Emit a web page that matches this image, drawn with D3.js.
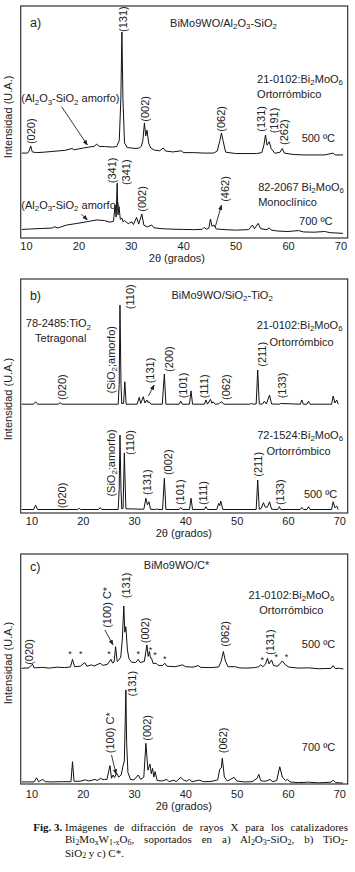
<!DOCTYPE html>
<html>
<head>
<meta charset="utf-8">
<script src="https://cdn.jsdelivr.net/npm/d3@7"></script>
<style>
  body { margin: 0; background: #fff; }
  svg text { font-family: "Liberation Sans", Arial, Helvetica, sans-serif; fill: #222; }
  svg .caption text { font-family: "Liberation Serif", "Times New Roman", serif; fill: #111; }
</style>
</head>
<body>
<svg id="fig" width="355" height="872"></svg>
<script>
// x ticks (2θ, grados)
const ticks2theta = [10, 20, 30, 40, 50, 60, 70];

// ---- panel a) BiMo9WO/Al2O3-SiO2 : [2θ, intensidad u.a.]
const a500 = [[9.2,36.6],[10.3,36.6],[10.6,37.5],[10.9,39.7],[11.2,37.1],[12,36.8],[13.5,37.0],[15,37.3],[16.5,37.6],[17.5,37.8],[18.8,38.6],[19.2,38.0],[20,38.4],[21,38.8],[22,39.2],[23,39.5],[23.5,40.5],[23.9,39.5],[25,39.4],[26.5,39.2],[27.3,39.4],[27.8,42],[28.1,60],[28.3,88.8],[28.5,60],[28.8,41],[29.3,39.0],[30,38.8],[31,38.6],[31.6,38.8],[32.0,39.5],[32.3,42],[32.6,49.6],[32.85,44],[33.1,46.5],[33.4,41],[33.8,38.8],[34.5,37.9],[35.5,37.6],[36.2,38.8],[36.6,37.5],[38,37.1],[39.7,37.6],[40,36.8],[42,36.8],[44,36.6],[45.8,36.6],[46.5,37.5],[47.0,42],[47.3,45.3],[47.6,42],[48.1,37.0],[50,36.4],[52,36.4],[54,36.4],[55.0,36.8],[55.4,40],[55.7,44.4],[56.0,40],[56.4,41.5],[56.8,38.5],[57.5,36.5],[58.5,37.0],[58.9,38.6],[59.3,36.6],[61,36.0],[63,35.8],[65,35.8],[67,35.8],[68.6,36.6],[69,35.8],[70.5,35.8]];
const a700 = [[9.2,3.7],[11,3.9],[13,4.1],[15.0,4.3],[15.5,4.9],[16,4.3],[17.8,5.6],[19.5,6.2],[21.6,7.0],[23.5,7.8],[25,7.5],[26,6.8],[26.7,7.2],[27.0,14.2],[27.2,9],[27.4,23.6],[27.55,10],[27.75,13.5],[28.0,8],[28.3,8.6],[28.5,7],[28.8,7.5],[29.5,6.2],[30.2,7.0],[30.5,5.8],[31.1,8.9],[31.5,6],[32.1,10.3],[32.5,5.5],[33.2,4.8],[34.0,5.6],[34.4,4.4],[36,4.0],[38,3.8],[40,3.7],[42,3.6],[43.6,3.7],[44.0,4.6],[44.4,3.8],[44.9,4.2],[45.2,8.2],[45.5,5.0],[45.9,5.6],[46.3,3.9],[48,3.6],[50,3.4],[52.5,3.6],[53.2,5.6],[53.6,4.0],[54.3,6.3],[54.8,4.0],[56.0,3.6],[56.4,4.4],[56.8,3.4],[58,3.0],[60,2.8],[62,3.2],[63,2.6],[65,2.5],[67,2.8],[68,2.3],[70.5,2.0]];

// ---- panel b) BiMo9WO/SiO2-TiO2
const bUpper = [[8.1,46.5],[10.4,46.5],[10.8,47.5],[11.2,46.5],[15.2,46.5],[15.6,47.1],[16.0,46.5],[20,46.5],[24,46.5],[26.9,46.5],[27.1,55],[27.25,88.8],[27.45,55],[27.6,46.8],[27.95,46.8],[28.2,56.1],[28.45,46.5],[30.6,46.5],[31.0,49.4],[31.3,46.8],[31.8,49.7],[32.1,47.0],[32.5,48.3],[32.7,47.2],[32.9,47.5],[33.3,46.5],[35.5,46.5],[35.9,59.4],[36.2,46.5],[38.8,46.5],[39.1,47.8],[39.4,46.5],[40.8,46.5],[41.1,52.2],[41.4,46.5],[43.7,46.5],[44.0,48.3],[44.3,46.5],[44.9,48.6],[45.15,46.9],[45.4,47.5],[45.8,46.5],[46.5,46.6],[46.8,47.3],[47.1,47.5],[47.5,46.5],[52.5,46.5],[52.9,46.8],[53.2,46.5],[53.8,46.6],[54.1,61.1],[54.4,46.6],[55.0,46.5],[55.4,47.8],[55.8,46.6],[56.4,50.4],[56.8,46.6],[58.3,46.5],[58.5,46.8],[62.4,46.5],[62.7,48.3],[63.0,46.5],[63.7,46.5],[64.0,47.8],[64.3,46.5],[68.5,46.5],[68.8,50.0],[69.15,47.0],[69.5,48.3],[69.8,46.5]];
const bLower = [[8.1,1.5],[10.4,1.5],[10.8,3.3],[11.2,1.5],[19.0,1.5],[19.3,2.0],[19.6,1.5],[23.1,1.5],[23.4,2.3],[23.7,1.5],[26.9,1.5],[27.1,10],[27.25,33.3],[27.45,10],[27.6,1.8],[27.85,2],[28.1,25.7],[28.4,1.8],[31.9,1.6],[32.3,6.3],[32.6,3.5],[32.9,4.8],[33.2,1.6],[34.1,1.5],[34.4,1.7],[34.7,1.5],[35.55,1.5],[35.9,14.8],[36.2,1.5],[38.8,1.5],[39.1,2.4],[39.4,1.5],[40.8,1.5],[41.1,6.3],[41.4,1.5],[43.7,1.5],[44.0,2.7],[44.3,1.5],[46.1,1.5],[46.5,4.1],[46.7,3.2],[46.9,5.1],[47.3,1.5],[53.8,1.5],[54.1,14.1],[54.4,1.6],[54.8,2.0],[55.2,4.4],[55.6,2.4],[56.0,2.6],[56.4,4.8],[56.8,1.6],[58.0,1.5],[58.3,2.7],[58.6,1.5],[62.4,1.5],[62.7,2.4],[63.0,1.5],[63.7,1.5],[64.0,2.7],[64.3,1.5],[68.5,1.5],[68.8,4.8],[69.15,2.2],[69.5,3.0],[69.8,1.5]];

// ---- panel c) BiMo9WO/C*
const c500 = [[8.1,50.3],[9.5,50.5],[10.2,52.1],[10.5,50.5],[12,50.7],[13.5,50.4],[15,50.8],[16.5,50.6],[17.6,50.9],[18.0,54.2],[18.4,51.0],[19.5,51.2],[20.4,52.8],[20.8,51.2],[21.7,51.8],[22.2,51.3],[23.4,52.5],[23.9,51.6],[24.8,52.0],[25.5,54.2],[25.8,52.6],[26.1,53.0],[26.4,59.7],[26.7,53.3],[27.0,53.8],[27.4,55.2],[27.7,62.6],[28.0,77.4],[28.2,66],[28.4,68.4],[28.7,58.3],[29.0,54.5],[29.5,53.0],[30.3,52.8],[30.8,54.2],[31.2,52.8],[32.0,53.3],[32.5,60.5],[32.75,55.5],[33.0,57.6],[33.2,54.8],[33.4,54.7],[33.7,52.4],[34.3,52.5],[34.7,51.6],[35.5,51.5],[36.0,52.5],[36.4,51.2],[38,51.0],[39.5,51.8],[40.0,51.0],[41.5,50.8],[42.5,51.5],[43.0,50.7],[45,50.6],[46.5,50.9],[47.0,53.5],[47.4,57.6],[47.8,53.5],[48.3,51.0],[49.7,51.0],[50.5,50.5],[52,50.4],[53.5,50.6],[54.3,51.0],[54.7,51.8],[55.1,51.0],[55.6,52.0],[56.0,54.7],[56.3,52.2],[56.8,53.9],[57.2,51.5],[58.0,51.2],[58.9,53.5],[59.5,51.8],[60.2,50.8],[62,50.4],[64,50.5],[66,50.1],[68.4,50.3],[68.8,51.5],[69.2,50.2],[70,50.3],[70.8,50.0]];
const c700 = [[8.1,0.9],[10.5,0.9],[11.0,2.7],[11.4,1.0],[12.2,2.0],[12.7,1.0],[14,0.9],[16,1.0],[17.7,1.0],[18.0,9.7],[18.3,1.2],[19.5,1.2],[20.5,1.8],[21.2,1.3],[22.4,2.0],[22.8,1.5],[23.5,2.5],[23.9,1.9],[24.2,2.0],[24.7,1.9],[25.3,8.0],[25.6,2.5],[25.9,3.9],[26.2,2.8],[26.6,4.7],[27.0,3.0],[27.5,4.0],[27.8,7.5],[28.1,10],[28.3,30],[28.4,40.9],[28.55,18],[28.8,5.0],[29.3,2.0],[30.0,1.8],[30.8,3.9],[31.3,2.0],[31.9,3.0],[32.3,17.7],[32.7,6.0],[33.1,8.7],[33.35,4.5],[33.6,6.8],[33.85,3.0],[34.1,5.4],[34.5,1.5],[35.5,1.3],[36.4,2.0],[36.8,1.0],[37.8,1.7],[38.2,1.0],[39.1,2.9],[39.6,1.8],[40.2,1.2],[40.8,2.0],[41.3,1.0],[42.7,1.7],[43.5,1.0],[45,1.1],[46.3,1.8],[46.7,6.4],[47.0,7],[47.2,11.2],[47.6,3.0],[48.2,1.3],[49.5,2.9],[50.0,1.3],[51.5,0.9],[53,1.0],[54.0,2.5],[54.3,4.2],[54.7,1.5],[55.3,1.2],[55.8,1.3],[56.5,2.0],[57.0,1.0],[57.8,1.5],[58.4,7.5],[58.9,3.0],[59.5,1.5],[59.9,2.0],[60.4,0.9],[62,0.6],[64,0.8],[66,0.5],[68.4,0.8],[68.8,1.7],[69.3,0.6],[70.7,0.4]];

// peak indices (rotated labels): [texto, 2θ, intensidad]
const aPeaks = [["(131)",28.6,88.8],["(020)",10.9,40.5],["(002)",32.8,50.1],["(062)",47.3,45.8],["(131)",54.8,45.8],["(191)",57.3,45.1],["(262)",59.2,40.1],["(341)",26.5,23.6],["(341)",29.1,22.8],["(002)",32.1,11.3],["(462)",48.0,15.6]];
const bPeaks = [["(110)",29.2,87.1],["(SiO_{2};amorfo)",25.5,51.1],["(131)",33.1,55.4],["(200)",36.9,60.3],["(101)",39.5,49.0],["(111)",43.7,49.0],["(062)",47.9,48.3],["(211)",55.0,62.5],["(133)",58.8,49.0],["(020)",15.9,48.3],
  ["(SiO_{2};amorfo)",25.5,7.0],["(110)",29.2,24.8],["(131)",32.5,7.7],["(002)",36.7,16.2],["(101)",38.9,3.4],["(111)",43.5,3.4],["(211)",54.2,15.5],["(133)",58.4,3.4],["(020)",15.9,2.0]];
const cPeaks = [["(131)",28.4,80.8],["(100) C*",24.7,67.9],["(002)",32.1,61.2],["(062)",47.7,59.7],["(131)",56.6,56.1],["(020)",9.6,51.8],["(131)",29.7,38.0],["(100) C*",25.3,13.4],["(002)",32.5,18.8],["(062)",47.3,13.4]];

// other labels: [texto, 2θ, intensidad]
const aNotes = [["BiMo9WO/Al_{2}O_{3}-SiO_{2}",37.5,92.8],["21-0102:Bi_{2}MoO_{6}",54.1,68.5],["Ortorrómbico",54.1,61.9],["500 ºC",62.6,43.0],["(Al_{2}O_{3}-SiO_{2} amorfo)",9.1,60.2],["82-2067 Bi_{2}MoO_{6}",54.3,22.1],["Monoclínico",54.3,15.4],["700 ºC",62.1,7.3],["(Al_{2}O_{3}-SiO_{2} amorfo)",9.1,14.2]];
const bNotes = [["BiMo9WO/SiO_{2}-TiO_{2}",37.3,93.1],["78-2485:TiO_{2}",8.9,81.0],["Tetragonal",10.7,74.6],["21-0102:Bi_{2}MoO_{6}",53.9,80.3],["Ortorrómbico",56.4,73.1],["72-1524:Bi_{2}MoO_{6}",54.0,33.3],["Ortorrómbico",55.8,26.6],["500 ºC",63.1,8.1]];
const cNotes = [["BiMo9WO/C*",31.9,95.3],["21-0102:Bi_{2}MoO_{6}",52.3,82.2],["Ortorrómbico",54.4,75.4],["500 ºC",62.7,60.8],["700 ºC",62.7,16.0]];

// arrows: [2θ desde, I desde, 2θ hasta, I hasta]
const aArrows = [[16.8,56.6,21.7,40.1],[46.1,4.6,47.3,14.2],[20.6,10.3,21.7,7.8]];
const bArrows = [[32.8,50.0,33.9,54.7]];
const cArrows = [[24.3,67.0,25.9,60.5],[25.6,12.6,26.5,4.2]];

// asteriscos en c) 500 ºC
const cStars = [[17.5,57.6],[19.6,57.6],[25.1,57.6],[30.8,57.6],[33.2,59.3],[34.1,57.1],[36.0,55.1],[55.0,54.7],[57.7,56.1],[59.7,56.1]];

const panels = [
  {id: "a", tag: "a)", tagPos: [10.76, 92.7], frame: [20.7, 6, 347.7, 238], dom: [8.99, 71.39],
   traces: [a500, a700], peaks: aPeaks, notes: aNotes, arrows: aArrows, stars: [],
   tickPad: 4, xlab: [38.8, 20.5], ylab: 52.2},
  {id: "b", tag: "b)", tagPos: [9.7, 92.7], frame: [20.7, 279, 347.7, 513], dom: [7.9, 71.64],
   traces: [bUpper, bLower], peaks: bPeaks, notes: bNotes, arrows: bArrows, stars: [],
   tickPad: 4, xlab: [39.7, 20.5], ylab: 48.7},
  {id: "c", tag: "c)", tagPos: [9.7, 94.3], frame: [20.7, 554, 347.7, 784], dom: [7.9, 71.64],
   traces: [c500, c700], peaks: cPeaks, notes: cNotes, arrows: cArrows, stars: cStars,
   tickPad: 6, xlab: [39.7, 22.5], ylab: 52.6}
];

const svg = d3.select("#fig");

svg.append("defs").append("marker")
   .attr("id", "ah")
   .attr("viewBox", "0 0 10 10")
   .attr("refX", 9).attr("refY", 5)
   .attr("markerWidth", 6).attr("markerHeight", 6)
   .attr("orient", "auto")
   .append("path")
   .attr("d", "M0,1 L10,5 L0,9 z")
   .attr("fill", "#222");

// text with _{..} subscripts
function rich(sel, str, fs, shift = 0.22) {
	const parts = str.split(/(_\{[^}]*\})/).filter(s => s.length);
	let down = false;
	parts.forEach(p => {
		const sub = p.startsWith("_{");
		const t = sel.append("tspan").text(sub ? p.slice(2, -1) : p);
		if (sub) {
			t.attr("font-size", fs * 0.72);
			if (!down) t.attr("dy", fs * shift);
			down = true;
		} else {
			if (down) t.attr("dy", -fs * shift);
			down = false;
		}
	});
}

panels.forEach(drawPanel);

function drawPanel(p) {
	const [x0, y0, x1, y1] = p.frame;
	const x = d3.scaleLinear().domain(p.dom).range([x0, x1]);
	const y = d3.scaleLinear().domain([0, 100]).range([y1, y0]);
	const g = svg.append("g").attr("class", "panel-" + p.id);

	const line = d3.line().x(d => x(d[0])).y(d => y(d[1]));
	g.selectAll("path.trace")
	 .data(p.traces)
	 .enter()
	 .append("path")
	 .attr("class", "trace")
	 .attr("d", line)
	 .attr("fill", "none")
	 .attr("stroke", "#111")
	 .attr("stroke-width", 1)
	 .attr("stroke-linejoin", "round");

	g.append("rect")
	 .attr("x", x0).attr("y", y0)
	 .attr("width", x1 - x0).attr("height", y1 - y0)
	 .attr("fill", "none")
	 .attr("stroke", "#333")
	 .attr("stroke-width", 1.2);

	// x axis: labels only
	const ax = g.append("g")
	 .attr("transform", `translate(0,${y1})`)
	 .call(d3.axisBottom(x).tickValues(ticks2theta).tickSize(0).tickPadding(p.tickPad));
	ax.select(".domain").remove();
	ax.attr("font-size", 11);

	g.append("text")
	 .attr("x", x(p.xlab[0]))
	 .attr("y", y1 + p.xlab[1])
	 .attr("dy", "0.35em")
	 .attr("text-anchor", "middle")
	 .attr("font-size", 11)
	 .text("2θ (grados)");

	g.append("text")
	 .attr("transform", `translate(8,${y(p.ylab)}) rotate(-90)`)
	 .attr("dy", "0.35em")
	 .attr("text-anchor", "middle")
	 .attr("font-size", 11)
	 .text("Intensidad (U.A.)");

	g.append("text")
	 .attr("x", x(p.tagPos[0]))
	 .attr("y", y(p.tagPos[1]))
	 .attr("dy", "0.35em")
	 .attr("font-size", 12.5)
	 .text(p.tag);

	// peak indices, rotated
	g.selectAll("text.peak")
	 .data(p.peaks)
	 .enter()
	 .append("text")
	 .attr("class", "peak")
	 .attr("transform", d => `translate(${x(d[1])},${y(d[2])}) rotate(-90)`)
	 .attr("dy", "0.35em")
	 .attr("font-size", 11)
	 .each(function(d) { rich(d3.select(this), d[0], 11); });

	g.selectAll("text.note")
	 .data(p.notes)
	 .enter()
	 .append("text")
	 .attr("class", "note")
	 .attr("x", d => x(d[1]))
	 .attr("y", d => y(d[2]))
	 .attr("dy", "0.35em")
	 .attr("font-size", 11)
	 .each(function(d) { rich(d3.select(this), d[0], 11); });

	g.selectAll("line.arrow")
	 .data(p.arrows)
	 .enter()
	 .append("line")
	 .attr("class", "arrow")
	 .attr("x1", d => x(d[0])).attr("y1", d => y(d[1]))
	 .attr("x2", d => x(d[2])).attr("y2", d => y(d[3]))
	 .attr("stroke", "#222")
	 .attr("stroke-width", 0.9)
	 .attr("marker-end", "url(#ah)");

	g.selectAll("text.star")
	 .data(p.stars)
	 .enter()
	 .append("text")
	 .attr("class", "star")
	 .attr("x", d => x(d[0]))
	 .attr("y", d => y(d[1]))
	 .attr("dy", "0.57em")
	 .attr("text-anchor", "middle")
	 .attr("font-size", 9)
	 .text("*");
}

// caption
const cap = svg.append("g").attr("class", "caption");
const capFs = 11;
cap.append("text")
   .attr("x", 33.3).attr("y", 830.5)
   .attr("font-size", capFs)
   .attr("font-weight", "bold")
   .text("Fig. 3.");

const capLines = [
	["Imágenes de difracción de rayos X para los catalizadores", 830.5, true],
	["Bi_{2}Mo_{x}W_{1-x}O_{6}, soportados en a) Al_{2}O_{3}-SiO_{2}, b) TiO_{2}-", 843, true],
	["SiO_{2} y c) C*.", 856.5, false]
];
capLines.forEach(l => {
	const t = cap.append("text")
	   .attr("x", 65).attr("y", l[1])
	   .attr("font-size", capFs);
	rich(t, l[0], capFs, 0.15);
	if (l[2]) {
		const w = t.node().getComputedTextLength();
		const spaces = (l[0].match(/ /g) || []).length;
		t.style("word-spacing", ((348 - 65 - w) / spaces) + "px");
	}
});
</script>
</body>
</html>
